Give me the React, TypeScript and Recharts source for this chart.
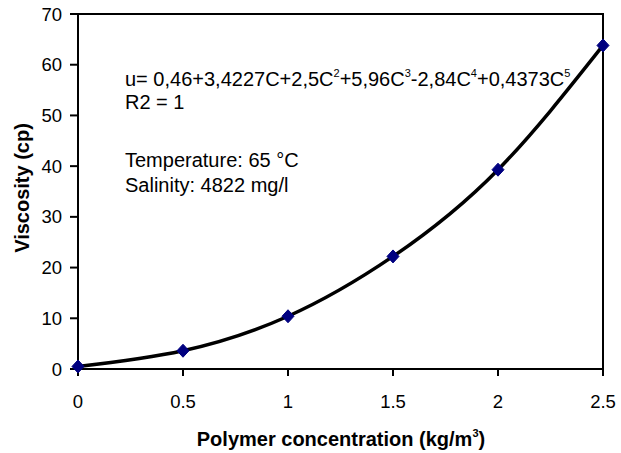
import {
    ComposedChart,
    Line,
    XAxis,
    YAxis,
    ReferenceArea,
    Customized,
} from 'recharts';

// measured points: polymer concentration (kg/m3) vs viscosity (cp)
const concentration = [0, 0.5, 1, 1.5, 2, 2.5];
const viscosity = [0.5, 3.6, 10.4, 22.2, 39.3, 63.8];

const xTicks = [0, 0.5, 1, 1.5, 2, 2.5];
const yTicks = [0, 10, 20, 30, 40, 50, 60, 70];

// trendline equation: [base text, superscript]
const equationParts: [string, string][] = [
    ['u= 0,46+3,4227C+2,5C', '2'],
    ['+5,96C', '3'],
    ['-2,84C', '4'],
    ['+0,4373C', '5'],
];
const fitLabel = 'R2 = 1';
const conditions = ['Temperature: 65 °C', 'Salinity: 4822 mg/l'];

const FONT = '"Liberation Sans", Arial, Helvetica, sans-serif';

const data = concentration.map((c, i) => ({ c, v: viscosity[i] }));

const Diamond = (props: { cx?: number; cy?: number; index?: number }) => {
    const { cx, cy } = props;
    if (cx == null || cy == null) return null;
    return (
        <polygon
            key={props.index}
            points={`${cx},${cy - 6.5} ${cx + 6},${cy} ${cx},${cy + 6.5} ${cx - 6},${cy}`}
            fill="#000080"
            stroke="#000080"
            strokeWidth={1}
        />
    );
};

const Annotations = () => (
    <g fontFamily={FONT} fill="#000">
        <text x={125} y={86} fontSize={20}>
            {equationParts.map(([base, sup], i) => (
                <tspan key={i}>
                    <tspan dy={i === 0 ? 0 : 9}>{base}</tspan>
                    <tspan dy={-9} fontSize={11}>{sup}</tspan>
                </tspan>
            ))}
        </text>
        <text x={125} y={109} fontSize={20}>{fitLabel}</text>
        <text x={125} y={167} fontSize={20}>{conditions[0]}</text>
        <text x={125} y={192} fontSize={20}>{conditions[1]}</text>
        <text x={341} y={446} fontSize={20} fontWeight="bold" textAnchor="middle">
            Polymer concentration (kg/m<tspan dy={-9} fontSize={11}>3</tspan>
            <tspan dy={9}>)</tspan>
        </text>
        <text
            x={29}
            y={188}
            fontSize={20}
            fontWeight="bold"
            textAnchor="middle"
            transform="rotate(-90, 29, 188)"
        >
            Viscosity (cp)
        </text>
    </g>
);

export default function App() {
    return (
        <div style={{ position: 'absolute', left: 0, top: 0, background: '#fff' }}>
            <ComposedChart
                width={621}
                height={453}
                data={data}
                margin={{ top: 14, right: 18, bottom: 24, left: 18 }}
            >
                <XAxis
                    dataKey="c"
                    type="number"
                    domain={[0, 2.5]}
                    ticks={xTicks}
                    height={60}
                    tickSize={7}
                    tickMargin={19}
                    axisLine={{ stroke: '#000', strokeWidth: 2 }}
                    tickLine={{ stroke: '#000', strokeWidth: 2 }}
                    tick={{ fill: '#000', fontSize: 18.5, fontFamily: FONT }}
                    tickFormatter={v => String(v)}
                />
                <YAxis
                    type="number"
                    domain={[0, 70]}
                    ticks={yTicks}
                    width={60}
                    tickSize={8}
                    tickMargin={8}
                    axisLine={{ stroke: '#000', strokeWidth: 2 }}
                    tickLine={{ stroke: '#000', strokeWidth: 2 }}
                    tick={{ fill: '#000', fontSize: 18.5, fontFamily: FONT }}
                />
                <ReferenceArea
                    x1={0}
                    x2={2.5}
                    y1={0}
                    y2={70}
                    fill="none"
                    fillOpacity={0}
                    stroke="#000"
                    strokeWidth={2}
                    strokeOpacity={1}
                />
                <Line
                    dataKey="v"
                    type="natural"
                    stroke="#000"
                    strokeWidth={3.5}
                    dot={<Diamond />}
                    activeDot={false}
                    isAnimationActive={false}
                />
                <Customized component={<Annotations />} />
            </ComposedChart>
        </div>
    );
}
